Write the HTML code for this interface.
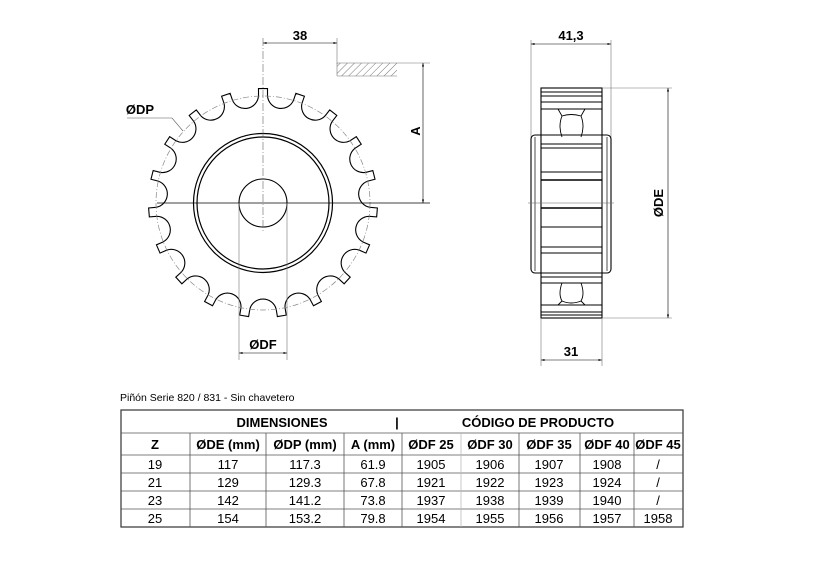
<!DOCTYPE html>
<html><head><meta charset="utf-8"><style>
body{margin:0;background:#fff;width:827px;height:583px;overflow:hidden;position:relative;font-family:"Liberation Sans",sans-serif}
svg{position:absolute;left:0;top:0}
</style></head><body>
<svg width="827" height="583" viewBox="0 0 827 583" xmlns="http://www.w3.org/2000/svg">
<defs>
<marker id="ar" viewBox="0 0 10 10" refX="10" refY="5" markerWidth="6" markerHeight="6" orient="auto-start-reverse"><path d="M0,2 L10,5 L0,8z" fill="#000"/></marker>
<pattern id="h" width="5" height="5" patternUnits="userSpaceOnUse" patternTransform="rotate(45)"><line x1="0" y1="0" x2="0" y2="5" stroke="#777" stroke-width="1"/></pattern>
</defs>
<g fill="none" stroke="#000" stroke-width="1">
<path id="gear" stroke-width="1.1"/>
<circle cx="263" cy="203" r="107" stroke="#888" stroke-width="0.7" stroke-dasharray="6,2,1,2"/>
<circle cx="263" cy="203" r="69.5" stroke-width="1.2"/>
<circle cx="263" cy="203" r="66" stroke-width="1.2"/>
<circle cx="263" cy="203" r="24" stroke-width="1.1"/>
<line x1="157" y1="203" x2="430" y2="203" stroke-width="0.8"/>
<line x1="263" y1="38" x2="263" y2="232" stroke="#666" stroke-width="0.6" stroke-dasharray="8,2,1,2"/>
<line x1="337" y1="38" x2="337" y2="64" stroke="#777" stroke-width="0.6"/>
<line x1="263" y1="43" x2="337" y2="43" stroke-width="0.6" marker-start="url(#ar)" marker-end="url(#ar)"/>
<rect x="337" y="63" width="60" height="13" fill="url(#h)" stroke="none"/>
<line x1="337" y1="63" x2="430" y2="63" stroke="#777" stroke-width="0.6"/>
<line x1="337" y1="76" x2="397" y2="76" stroke="#777" stroke-width="0.6"/>
<line x1="337" y1="63" x2="337" y2="76" stroke="#777" stroke-width="0.6"/>
<line x1="423" y1="63" x2="423" y2="203" stroke-width="0.6" marker-start="url(#ar)" marker-end="url(#ar)"/>
<polyline points="127,118 172,118 183,131" stroke="#555" stroke-width="0.6"/>
<line x1="239" y1="203" x2="239" y2="360" stroke="#777" stroke-width="0.6"/>
<line x1="287" y1="203" x2="287" y2="360" stroke="#777" stroke-width="0.6"/>
<line x1="239" y1="353" x2="287" y2="353" stroke-width="0.6" marker-start="url(#ar)" marker-end="url(#ar)"/>
<line x1="531" y1="40" x2="531" y2="140" stroke="#777" stroke-width="0.6"/>
<line x1="611" y1="40" x2="611" y2="140" stroke="#777" stroke-width="0.6"/>
<line x1="531" y1="44" x2="611" y2="44" stroke-width="0.6" marker-start="url(#ar)" marker-end="url(#ar)"/>
<rect x="531" y="135" width="80" height="138" rx="4" stroke-width="1.1"/>
<line x1="535" y1="137" x2="535" y2="271" stroke-width="0.7"/>
<line x1="607" y1="137" x2="607" y2="271" stroke-width="0.7"/>
<rect x="541" y="88" width="61" height="230" fill="#fff" stroke-width="1.1"/>
<g stroke-width="0.9">
<line x1="541" y1="92" x2="602" y2="92"/><line x1="541" y1="96" x2="602" y2="96"/><line x1="541" y1="102" x2="602" y2="102"/>
<line x1="541" y1="109" x2="602" y2="109"/>
<line x1="541" y1="135" x2="602" y2="135"/><line x1="541" y1="144" x2="602" y2="144"/><line x1="541" y1="148" x2="602" y2="148"/>
<line x1="541" y1="172" x2="602" y2="172"/><line x1="541" y1="180" x2="602" y2="180" stroke-width="1.5"/>
<line x1="541" y1="208" x2="602" y2="208" stroke-width="1.5"/>
<line x1="541" y1="227" x2="602" y2="227"/>
<line x1="541" y1="247" x2="602" y2="247"/><line x1="541" y1="253" x2="602" y2="253"/>
<line x1="541" y1="273" x2="602" y2="273"/><line x1="541" y1="277" x2="602" y2="277"/><line x1="541" y1="283" x2="602" y2="283"/>
<line x1="541" y1="305" x2="602" y2="305"/>
<line x1="541" y1="312" x2="602" y2="312"/><line x1="541" y1="315" x2="602" y2="315"/>
</g>
<path d="M558,109 L562,116 Q558,126 562,137 M585,109 L581,116 Q585,126 581,137 M562,116 Q571,113 581,116" stroke-width="0.9"/>
<path d="M562,283 Q558,294 562,301 L558,305 M581,283 Q585,294 581,301 L585,305 M562,301 Q571,305 581,301" stroke-width="0.9"/>
<line x1="528" y1="203" x2="614" y2="203" stroke="#666" stroke-width="0.6"/>
<line x1="602" y1="88" x2="672" y2="88" stroke="#777" stroke-width="0.6"/>
<line x1="602" y1="318" x2="672" y2="318" stroke="#777" stroke-width="0.6"/>
<line x1="668" y1="88" x2="668" y2="318" stroke-width="0.6" marker-start="url(#ar)" marker-end="url(#ar)"/>
<line x1="541" y1="318" x2="541" y2="366" stroke="#777" stroke-width="0.6"/>
<line x1="602" y1="318" x2="602" y2="366" stroke="#777" stroke-width="0.6"/>
<line x1="541" y1="360" x2="602" y2="360" stroke-width="0.6" marker-start="url(#ar)" marker-end="url(#ar)"/>
</g>
<g font-family="Liberation Sans, sans-serif" font-weight="bold" font-size="13" fill="#000">
<text x="300" y="40" text-anchor="middle">38</text>
<text x="140" y="114" text-anchor="middle">ØDP</text>
<text x="263" y="349" text-anchor="middle">ØDF</text>
<text x="571" y="40" text-anchor="middle">41,3</text>
<text x="571" y="356" text-anchor="middle">31</text>
<text transform="translate(420,131) rotate(-90)" text-anchor="middle">A</text>
<text transform="translate(663,203) rotate(-90)" text-anchor="middle">ØDE</text>
</g>
<text x="120" y="401" font-size="10.5" font-family="Liberation Sans, sans-serif">Piñón Serie 820 / 831 - Sin chavetero</text>
<g stroke="#555" stroke-width="0.8" fill="none">
<rect x="121" y="410" width="562" height="117" stroke="#333" stroke-width="1.2"/>
<line x1="121" y1="433" x2="683" y2="433"/>
<line x1="121" y1="455" x2="683" y2="455"/>
<line x1="121" y1="473" x2="683" y2="473"/>
<line x1="121" y1="491" x2="683" y2="491"/>
<line x1="121" y1="509" x2="683" y2="509"/>
<line x1="190" y1="433" x2="190" y2="527"/><line x1="266" y1="433" x2="266" y2="527"/>
<line x1="344" y1="433" x2="344" y2="527"/><line x1="402" y1="433" x2="402" y2="527"/>
<line x1="461" y1="433" x2="461" y2="527" stroke="#bbb"/><line x1="519" y1="433" x2="519" y2="527"/>
<line x1="580" y1="433" x2="580" y2="527"/><line x1="634" y1="433" x2="634" y2="527"/>
</g>
<g font-family="Liberation Sans, sans-serif" font-size="13" text-anchor="middle" fill="#000">
<g font-weight="bold" font-size="13">
<text x="282" y="427">DIMENSIONES</text><text x="397" y="427">|</text><text x="538" y="427">CÓDIGO DE PRODUCTO</text>
<text x="155" y="449">Z</text><text x="228" y="449">ØDE (mm)</text><text x="305" y="449">ØDP (mm)</text><text x="373" y="449">A (mm)</text>
<text x="431" y="449">ØDF 25</text><text x="490" y="449">ØDF 30</text><text x="549" y="449">ØDF 35</text><text x="607" y="449">ØDF 40</text><text x="658" y="449">ØDF 45</text>
</g>
<g id="rows"></g>
</g>
</svg>
<script>
(function(){
var cx=263,cy=203,N=19,rt=114.5,rb=107,hw=4.5,d="";
function p(r,a){return (cx+r*Math.cos(a)).toFixed(2)+","+(cy+r*Math.sin(a)).toFixed(2);}
for(var i=0;i<N;i++){
 var a=-Math.PI/2+i*2*Math.PI/N;
 var da=hw/rt, db=hw/rb;
 d+=(i==0?"M":"L")+p(rb,a-db)+" L"+p(rt,a-da)+" L"+p(rt,a+da)+" L"+p(rb,a+db);
 var a2=a+2*Math.PI/N;
 d+=" A13.6,13.6 0 0 0 "+p(rb,a2-db);
}
d+="Z";
document.getElementById("gear").setAttribute("d",d);
var data=[["19","117","117.3","61.9","1905","1906","1907","1908","/"],["21","129","129.3","67.8","1921","1922","1923","1924","/"],["23","142","141.2","73.8","1937","1938","1939","1940","/"],["25","154","153.2","79.8","1954","1955","1956","1957","1958"]];
var xs=[155,228,305,373,431,490,549,607,658],ys=[469,487,505,523],h="";
for(var r=0;r<4;r++)for(var c=0;c<9;c++)h+='<text x="'+xs[c]+'" y="'+ys[r]+'">'+data[r][c]+'</text>';
document.getElementById("rows").innerHTML=h;
})();
</script>
</body></html>
